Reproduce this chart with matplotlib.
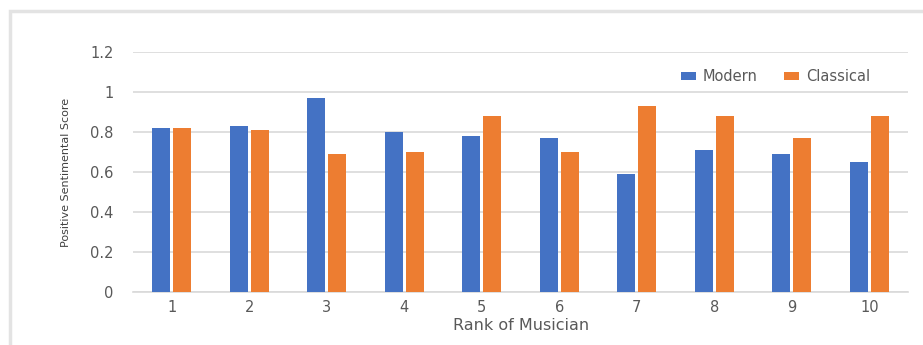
import matplotlib.pyplot as plt
import numpy as np
from matplotlib.patches import Rectangle

# scores per musician rank
ranks = ['1', '2', '3', '4', '5', '6', '7', '8', '9', '10']
modern = [0.82, 0.83, 0.97, 0.80, 0.78, 0.77, 0.59, 0.71, 0.69, 0.65]
classical = [0.82, 0.81, 0.69, 0.70, 0.88, 0.70, 0.93, 0.88, 0.77, 0.88]

BLUE = '#4472C4'
ORANGE = '#ED7D31'
GRID = '#d9d9d9'
TEXT = '#595959'

fig = plt.figure(figsize=(9.23, 3.45), dpi=100)
ax = fig.add_axes([0.144, 0.1536, 0.840, 0.6956])

# light frame around the chart area
fig.patches.append(Rectangle((10 / 923, -0.2), 1.2, 1.2 - 11 / 345,
                             transform=fig.transFigure, fill=False,
                             edgecolor='#e3e3e3', lw=2.5))

x = np.arange(len(ranks))
w = 0.232
ax.bar(x - 0.135, modern, w, color=BLUE, label='Modern', zorder=3)
ax.bar(x + 0.135, classical, w, color=ORANGE, label='Classical', zorder=3)

ax.set_xlim(-0.5, len(ranks) - 0.5)
ax.set_ylim(0, 1.2)
ax.set_yticks([0, 0.2, 0.4, 0.6, 0.8, 1.0, 1.2])
ax.set_yticklabels(['0', '0.2', '0.4', '0.6', '0.8', '1', '1.2'])
ax.set_xticks(x)
ax.set_xticklabels(ranks)
ax.tick_params(length=0, colors=TEXT, labelsize=10.5)
ax.tick_params(axis='y', pad=14)
ax.tick_params(axis='x', pad=6)

ax.grid(axis='y', color=GRID, lw=1.2, zorder=0)
for side in ['top', 'right', 'left']:
    ax.spines[side].set_visible(False)
ax.spines['bottom'].set_color(GRID)
ax.spines['bottom'].set_linewidth(1.2)

ax.set_xlabel('Rank of Musician', color=TEXT, fontsize=11.5, labelpad=2)
ax.set_ylabel('Positive Sentimental Score', color='#404040', fontsize=8,
              labelpad=14)

ax.legend(loc='center left', bbox_to_anchor=(0.69, 0.896), ncol=2,
          frameon=False, handlelength=1.0, handleheight=0.5,
          handletextpad=0.5, columnspacing=1.8, fontsize=10.5,
          labelcolor=TEXT)

fig.savefig('out.png', dpi=100)
